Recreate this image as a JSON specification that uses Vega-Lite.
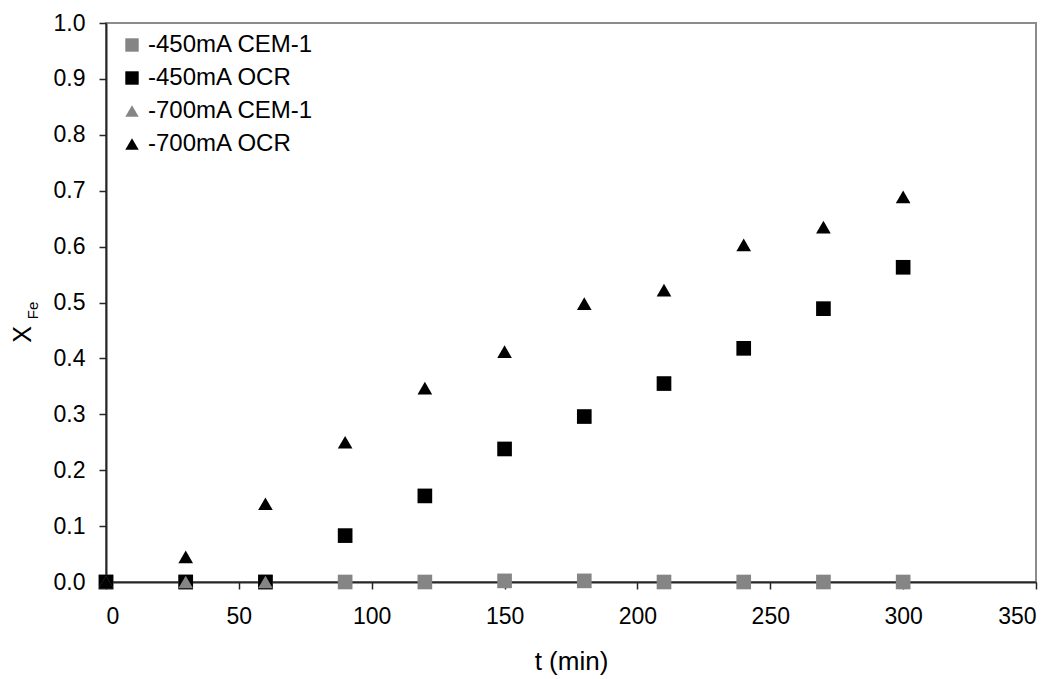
{
  "$schema": "https://vega.github.io/schema/vega-lite/v6.json",
  "width": 930,
  "height": 559,
  "autosize": {"type": "none"},
  "padding": {"left": 106, "top": 23, "right": 26, "bottom": 97},
  "background": "white",
  "config": {
    "font": "Liberation Sans",
    "view": {"stroke": "#8c8c8c", "strokeWidth": 2},
    "axis": {
      "grid": false,
      "domainColor": "#262626",
      "domainWidth": 2,
      "tickColor": "#262626",
      "tickWidth": 1.5,
      "tickSize": 7,
      "labelFont": "Liberation Sans",
      "labelFontSize": 23,
      "labelColor": "#000000",
      "titleFont": "Liberation Sans",
      "titleColor": "#000000",
      "titleFontWeight": "normal"
    },
    "legend": {
      "labelFont": "Liberation Sans",
      "labelFontSize": 24,
      "labelColor": "#000000",
      "labelLimit": 400
    }
  },
  "data": {
    "values": [
      {"t": 0, "x": 0, "series": "-450mA CEM-1"},
      {"t": 30, "x": 0, "series": "-450mA CEM-1"},
      {"t": 60, "x": 0, "series": "-450mA CEM-1"},
      {"t": 90, "x": 0, "series": "-450mA CEM-1"},
      {"t": 120, "x": 0, "series": "-450mA CEM-1"},
      {"t": 150, "x": 0.002, "series": "-450mA CEM-1"},
      {"t": 180, "x": 0.002, "series": "-450mA CEM-1"},
      {"t": 210, "x": 0, "series": "-450mA CEM-1"},
      {"t": 240, "x": 0, "series": "-450mA CEM-1"},
      {"t": 270, "x": 0, "series": "-450mA CEM-1"},
      {"t": 300, "x": 0, "series": "-450mA CEM-1"},
      {"t": 0, "x": 0, "series": "-450mA OCR"},
      {"t": 30, "x": 0, "series": "-450mA OCR"},
      {"t": 60, "x": 0, "series": "-450mA OCR"},
      {"t": 90, "x": 0.083, "series": "-450mA OCR"},
      {"t": 120, "x": 0.154, "series": "-450mA OCR"},
      {"t": 150, "x": 0.238, "series": "-450mA OCR"},
      {"t": 180, "x": 0.296, "series": "-450mA OCR"},
      {"t": 210, "x": 0.355, "series": "-450mA OCR"},
      {"t": 240, "x": 0.418, "series": "-450mA OCR"},
      {"t": 270, "x": 0.489, "series": "-450mA OCR"},
      {"t": 300, "x": 0.563, "series": "-450mA OCR"},
      {"t": 0, "x": 0, "series": "-700mA CEM-1"},
      {"t": 30, "x": 0, "series": "-700mA CEM-1"},
      {"t": 60, "x": 0, "series": "-700mA CEM-1"},
      {"t": 0, "x": 0, "series": "-700mA OCR"},
      {"t": 30, "x": 0.045, "series": "-700mA OCR"},
      {"t": 60, "x": 0.14, "series": "-700mA OCR"},
      {"t": 90, "x": 0.25, "series": "-700mA OCR"},
      {"t": 120, "x": 0.347, "series": "-700mA OCR"},
      {"t": 150, "x": 0.412, "series": "-700mA OCR"},
      {"t": 180, "x": 0.498, "series": "-700mA OCR"},
      {"t": 210, "x": 0.522, "series": "-700mA OCR"},
      {"t": 240, "x": 0.603, "series": "-700mA OCR"},
      {"t": 270, "x": 0.635, "series": "-700mA OCR"},
      {"t": 300, "x": 0.689, "series": "-700mA OCR"}
    ]
  },
  "layer": [
    {
      "mark": {"type": "point", "filled": true, "opacity": 1, "size": 215, "strokeWidth": 0},
      "encoding": {
        "x": {
          "field": "t",
          "type": "quantitative",
          "scale": {"domain": [0, 350], "nice": false, "zero": false},
          "axis": {
            "values": [0, 50, 100, 150, 200, 250, 300, 350],
            "title": "t (min)",
            "titleFontSize": 26,
            "titlePadding": 20,
            "labelPadding": 16
          }
        },
        "y": {
          "field": "x",
          "type": "quantitative",
          "scale": {"domain": [0, 1], "nice": false},
          "axis": {
            "values": [0, 0.1, 0.2, 0.3, 0.4, 0.5, 0.6, 0.7, 0.8, 0.9, 1.0],
            "format": ".1f",
            "labelPadding": 14,
            "title": "X",
            "titleFontSize": 25,
            "titleAngle": -90,
            "titleAlign": "center",
            "titleBaseline": "middle",
            "titleX": -84,
            "titleY": 311
          }
        },
        "color": {
          "field": "series",
          "type": "nominal",
          "sort": null,
          "scale": {
            "domain": ["-450mA CEM-1", "-450mA OCR", "-700mA CEM-1", "-700mA OCR"],
            "range": ["#858585", "#000000", "#858585", "#000000"]
          },
          "legend": {
            "title": null,
            "orient": "none",
            "legendX": 14,
            "legendY": 10,
            "padding": 0,
            "rowPadding": 9,
            "labelOffset": 4,
            "labelLimit": 400,
            "symbolSize": 180,
            "symbolStrokeWidth": 0
          }
        },
        "shape": {
          "field": "series",
          "type": "nominal",
          "sort": null,
          "scale": {
            "domain": ["-450mA CEM-1", "-450mA OCR", "-700mA CEM-1", "-700mA OCR"],
            "range": ["square", "square", "triangle-up", "triangle-up"]
          },
          "legend": {
            "title": null,
            "orient": "none",
            "legendX": 14,
            "legendY": 10,
            "padding": 0,
            "rowPadding": 9,
            "labelOffset": 4,
            "labelLimit": 400,
            "symbolSize": 180,
            "symbolStrokeWidth": 0
          }
        }
      }
    },
    {
      "mark": {"type": "point", "opacity": 0},
      "encoding": {
        "y": {
          "field": "x",
          "type": "quantitative",
          "scale": {"domain": [0, 1], "nice": false},
          "axis": {
            "orient": "left",
            "labels": false,
            "ticks": false,
            "domain": false,
            "title": "Fe",
            "titleFontSize": 15,
            "titleAngle": -90,
            "titleAlign": "center",
            "titleBaseline": "middle",
            "titleX": -74,
            "titleY": 287
          }
        }
      }
    }
  ],
  "resolve": {"axis": {"y": "independent"}}
}
